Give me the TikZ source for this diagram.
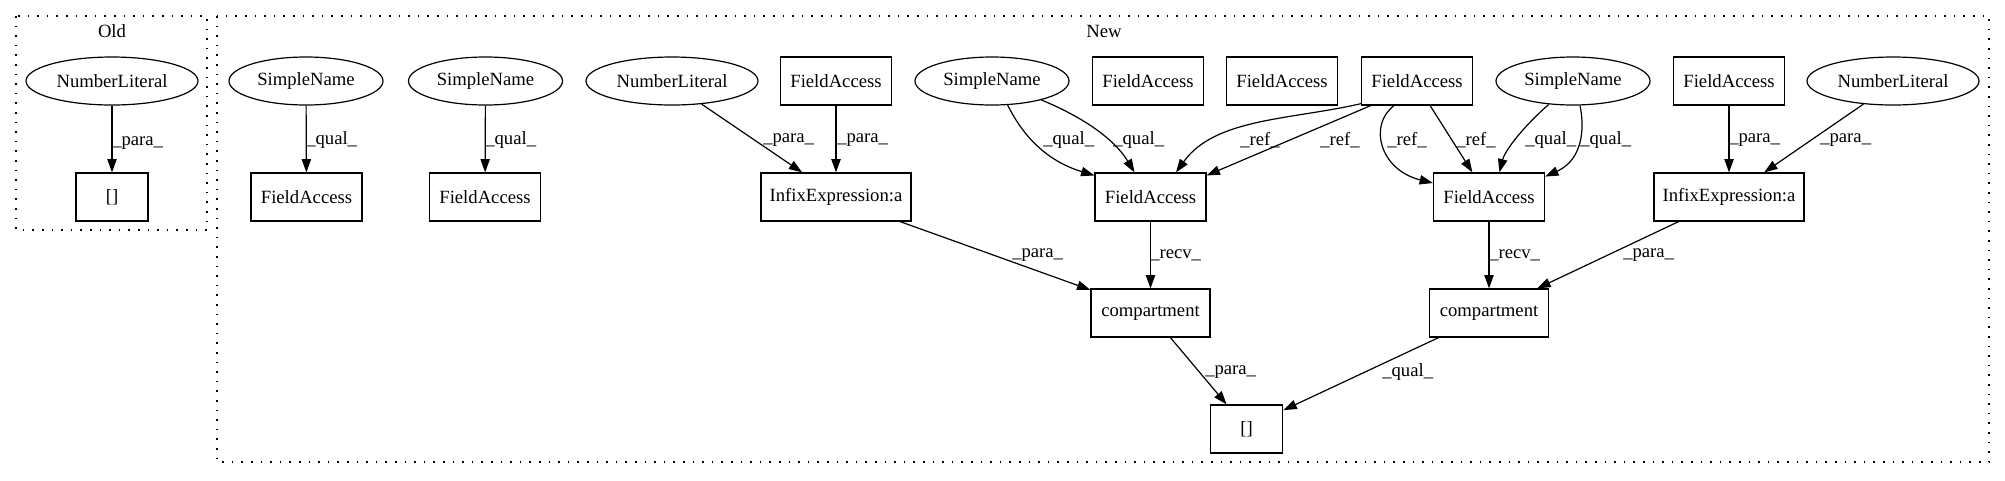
\documentclass[tikz,border=0pt]{standalone}
\usepackage{fontspec}
\setmainfont{Liberation Serif}
\usetikzlibrary{arrows.meta,shapes.geometric}
\begin{document}
\begin{tikzpicture}[x=0.75pt,y=-0.75pt,
  txt/.style={font=\fontsize{14}{16}\selectfont},
  box/.style={txt,draw,rectangle,line width=0.9pt,minimum height=36pt,inner sep=0pt},
  fabox/.style={box,minimum width=83.25pt},
  iebox/.style={box,minimum width=112.5pt},
  cbox/.style={box,minimum width=89.25pt},
  brbox/.style={box,minimum width=54.5pt},
  ell/.style={txt,draw,ellipse,line width=0.9pt,minimum height=36pt,inner sep=0pt},
  snell/.style={ell,minimum width=115.5pt},
  nlell/.style={ell,minimum width=129pt},
  ed/.style={-{Triangle[length=10pt,width=7pt]},line width=0.9pt},
  lbl/.style={txt,anchor=west,inner sep=0pt},
  clus/.style={line width=0.9pt,dash pattern=on 1.2pt off 6pt}]
\useasboundingbox (0,0) rectangle (2005,480);
% clusters
\draw[clus] (16,16) rectangle (207,230);
\node[txt] (oldlbl) at (112,31) {Old};
\draw[clus] (217,16) rectangle (1989,462);
\node[txt] (newlbl) at (1104,31) {New};
% Old nodes
\node[nlell] (onl) at (112,81) {NumberLiteral};
\node[brbox,minimum width=54pt] (obr) at (112,197) {[]};
% New nodes
\node[snell] (sn1) at (306,81) {SimpleName};
\node[fabox] (fa1) at (306.5,197) {FieldAccess};
\node[snell] (sn2) at (485.5,81) {SimpleName};
\node[fabox] (fa2) at (485,197) {FieldAccess};
\node[nlell] (nl2) at (672,81) {NumberLiteral};
\node[fabox] (fa3) at (836,81) {FieldAccess};
\node[iebox] (ie1) at (836,197) {InfixExpression:a};
\node[snell] (sn3) at (992,81) {SimpleName};
\node[fabox] (fa4) at (1148,81) {FieldAccess};
\node[fabox] (fa5) at (1150.5,197) {FieldAccess};
\node[fabox] (fa6) at (1282,81) {FieldAccess};
\node[fabox] (fa7) at (1417,81) {FieldAccess};
\node[snell] (sn4) at (1573,81) {SimpleName};
\node[fabox] (fa8) at (1489,197) {FieldAccess};
\node[fabox] (fa9) at (1729,81) {FieldAccess};
\node[iebox] (ie2) at (1729,197) {InfixExpression:a};
\node[nlell] (nl3) at (1893,81) {NumberLiteral};
\node[cbox] (c1) at (1150.5,313) {compartment};
\node[cbox] (c2) at (1489,313) {compartment};
\node[brbox] (nbr) at (1246.5,429) {[]};
% Old edges
\draw[ed] (onl) -- (obr);
\node[lbl] at (112,143) {\_para\_};
% New edges
\draw[ed] (sn1) -- (fa1);
\node[lbl] at (306,140) {\_qual\_};
\draw[ed] (sn2) -- (fa2);
\node[lbl] at (485,140) {\_qual\_};
\draw[ed] (nl2.-38) -- (ie1.144);
\node[lbl] at (763,140) {\_para\_};
\draw[ed] (fa3) -- (ie1);
\node[lbl] at (837,140) {\_para\_};
\draw[ed] (sn3.-57) .. controls (1025,140) and (1050,162) .. (fa5.159);
\node[lbl] at (1043,140) {\_qual\_};
\draw[ed] (sn3.-21) .. controls (1085,118) and (1115,140) .. (fa5.123);
\node[lbl] at (1113,140) {\_qual\_};
\draw[ed] (fa7.202) .. controls (1290,120) and (1215,118) .. (fa5.44);
\node[lbl] at (1240,140) {\_ref\_};
\draw[ed] (fa7.208) -- (fa5.21);
\node[lbl] at (1320,140) {\_ref\_};
\draw[ed] (fa7.227) .. controls (1368,125) and (1380,170) .. (fa8.166);
\node[lbl] at (1387,140) {\_ref\_};
\draw[ed] (fa7.-62) -- (fa8.124);
\node[lbl] at (1456,140) {\_ref\_};
\draw[ed] (sn4.224) .. controls (1525,125) and (1505,150) .. (fa8.67);
\node[lbl] at (1525,140) {\_qual\_};
\draw[ed] (sn4.-74) .. controls (1585,130) and (1582,160) .. (fa8.20);
\node[lbl] at (1580,140) {\_qual\_};
\draw[ed] (fa9) -- (ie2);
\node[lbl] at (1729,140) {\_para\_};
\draw[ed] (nl3.218) -- (ie2.35);
\node[lbl] at (1820,140) {\_para\_};
\draw[ed] (ie1.-21) -- (c1.159);
\node[lbl] at (1012,255) {\_para\_};
\draw[ed] (fa5) -- (c1);
\node[lbl] at (1150,255) {\_recv\_};
\draw[ed] (fa8) -- (c2);
\node[lbl] at (1489,255) {\_recv\_};
\draw[ed] (ie2.206) -- (c2.27);
\node[lbl] at (1623,255) {\_para\_};
\draw[ed] (c1.-51) -- (nbr.129);
\node[lbl] at (1205,372) {\_para\_};
\draw[ed] (c2.206) -- (nbr.27);
\node[lbl] at (1382,372) {\_qual\_};
\end{tikzpicture}
\end{document}
